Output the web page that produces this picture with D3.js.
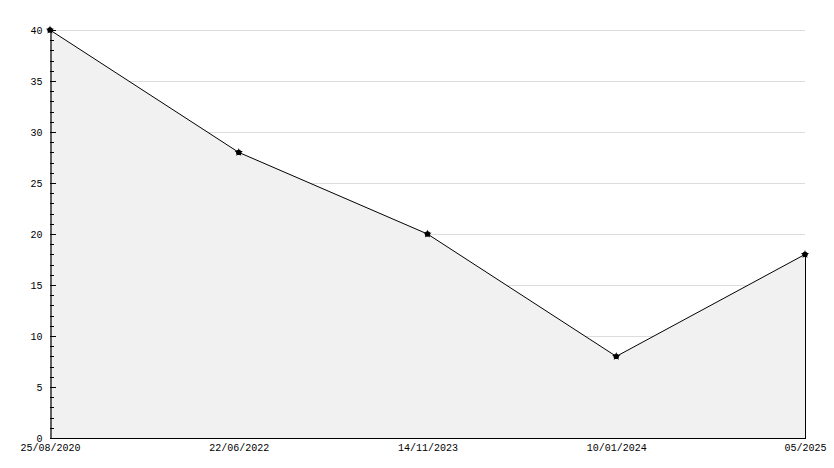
<!DOCTYPE html>
<html><head><meta charset="utf-8">
<script src="https://cdn.jsdelivr.net/npm/d3@7/dist/d3.min.js"></script>
<style>
html,body{margin:0;padding:0;background:#fff;}
svg{display:block;}
text{font-family:"Liberation Mono","DejaVu Sans Mono",monospace;font-size:10px;fill:#000;}
</style></head>
<body>
<svg id="chart" width="834" height="468"></svg>
<script>
const categories = ["25/08/2020","22/06/2022","14/11/2023","10/01/2024","05/2025"];
const values = [40, 28, 20, 8, 18];
const yTicks = [0,5,10,15,20,25,30,35,40];

(function(){
const svg = d3.select("#chart");
const mLeft = 50, mRight = 805, mTop = 30, mBottom = 438;
const font = "Liberation Mono, DejaVu Sans Mono, monospace";

const x = d3.scalePoint().domain(categories).range([mLeft, mRight]);
const y = d3.scaleLinear().domain([0, 40]).range([mBottom, mTop]);

// gridlines
svg.append("g").selectAll("line").data(yTicks.filter(d => d > 0)).join("line")
  .attr("x1", mLeft).attr("x2", mRight)
  .attr("y1", d => Math.round(y(d)) + 0.5).attr("y2", d => Math.round(y(d)) + 0.5)
  .attr("stroke", "#dddddd").attr("stroke-width", 1);

const data = categories.map((c, i) => ({c, v: values[i]}));

// area
svg.append("path").datum(data)
  .attr("d", d3.area().x(d => x(d.c)).y0(mBottom).y1(d => y(d.v)))
  .attr("fill", "#f1f1f1");

// line
svg.append("path").datum(data)
  .attr("d", d3.line().x(d => x(d.c)).y(d => y(d.v)))
  .attr("fill", "none").attr("stroke", "#000").attr("stroke-width", 1);

// right edge vertical
svg.append("line")
  .attr("x1", mRight + 0.5).attr("x2", mRight + 0.5)
  .attr("y1", y(values[values.length - 1])).attr("y2", mBottom)
  .attr("stroke", "#000");

// y axis
const yAxis = d3.axisLeft(y).tickValues(yTicks).tickSize(0).tickPadding(8);
const gy = svg.append("g").attr("transform", `translate(${mLeft + 0.5},0)`).call(yAxis);
gy.select(".domain").attr("stroke", "#000").attr("stroke-width", 1.2);
gy.selectAll("text").style("font-family", font).style("font-size", "10px");

// minor & major ticks (pointing inward)
const minor = d3.range(0, 41);
svg.append("g").selectAll("line").data(minor).join("line")
  .attr("x1", mLeft).attr("x2", d => mLeft + (d % 5 === 0 ? 6 : 4))
  .attr("y1", d => Math.round(y(d)) + 0.5).attr("y2", d => Math.round(y(d)) + 0.5)
  .attr("stroke", "#000");

// x axis baseline
svg.append("line")
  .attr("x1", mLeft).attr("x2", mRight + 1)
  .attr("y1", mBottom + 0.5).attr("y2", mBottom + 0.5)
  .attr("stroke", "#000").attr("stroke-width", 1.2);

// x labels
const xAxis = d3.axisBottom(x).tickSize(0).tickPadding(6);
const gx = svg.append("g").attr("transform", `translate(0,${mBottom})`).call(xAxis);
gx.select(".domain").remove();
gx.selectAll("text").style("font-family", font).style("font-size", "10px");

// markers
svg.append("g").selectAll("path").data(data).join("path")
  .attr("transform", d => `translate(${x(d.c)},${y(d.v)})`)
  .attr("d", d3.symbol().type(d3.symbolStar).size(22))
  .attr("fill", "#000");
svg.append("g").selectAll("circle").data(data).join("circle")
  .attr("cx", d => x(d.c)).attr("cy", d => y(d.v)).attr("r", 2.7)
  .attr("fill", "#000");
})();
</script>
</body></html>
